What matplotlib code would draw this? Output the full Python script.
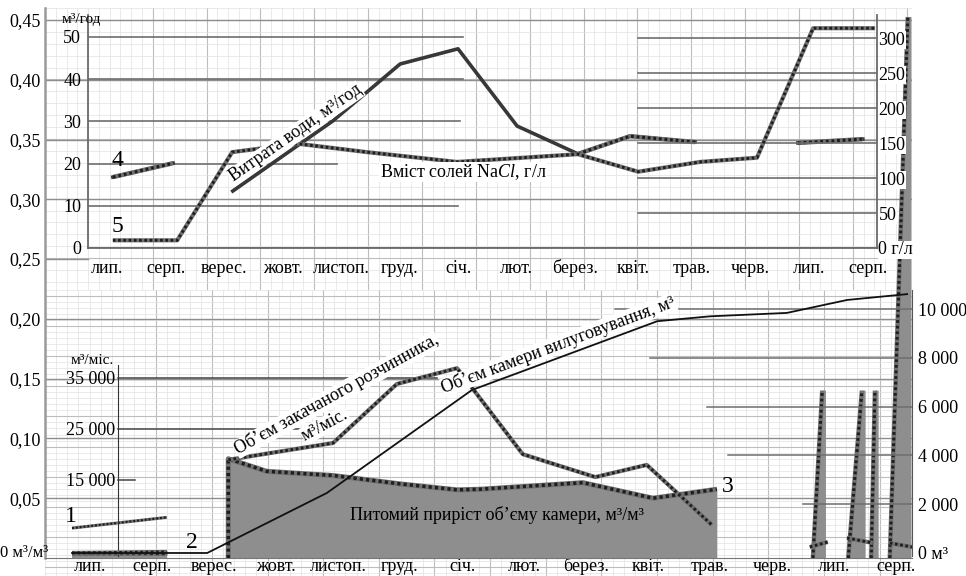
import numpy as np
import matplotlib.pyplot as plt
from matplotlib.ticker import FuncFormatter

plt.rcParams['font.family'] = ['Liberation Serif', 'DejaVu Serif']
plt.rcParams['font.size'] = 13
plt.rcParams['mathtext.fontset'] = 'custom'
plt.rcParams['mathtext.rm'] = 'Liberation Serif'
plt.rcParams['mathtext.it'] = 'Liberation Serif:italic'

nan = np.nan

# ---- data ----
months = ['лип.', 'серп.', 'верес.', 'жовт.', 'листоп.', 'груд.', 'січ.',
          'лют.', 'берез.', 'квіт.', 'трав.', 'черв.', 'лип.', 'серп.']

# top panel: water flow, m3/h (4 and the solid line)
water_x = [0.10, 1.13, nan, 2.15, 3.86, 5.01, 6.00, 7.01, 8.05, 8.94, 10.05, nan, 11.81, 12.92]
water_y = [16.8, 20.1, nan, 13.5, 30.1, 43.6, 47.2, 28.9, 22.3, 26.5, 25.1, nan, 24.9, 25.8]

# top panel: NaCl content, g/l (5)
salt_x = [0.10, 1.20, 2.14, 3.26, 4.44, 5.98, 8.05, 9.08, 10.14, 11.11, 12.07, 13.13]
salt_y = [11, 11, 137, 149, 137, 123, 134, 109, 123, 129, 314, 314]

# bottom panel: specific growth of the chamber volume, m3/m3 (3)
growth0_x = [-0.29, 1.24]
growth0_y = [0.004, 0.004]
growth_x = [2.23, 2.23, 2.85, 3.92, 5.00, 5.92, 6.29, 7.95, 9.08, 10.11]
growth_y = [0.0, 0.083, 0.0725, 0.069, 0.062, 0.057, 0.0575, 0.063, 0.050, 0.0575]
spike_start = [11.66, 12.23, 12.60, 12.90]
spike_end = [11.81, 12.45, 12.66, 13.19]
spike_top = [0.14, 0.14, 0.14, 0.4525]

# bottom panel: line 1
line1_x = [-0.29, 1.24]
line1_y = [0.025, 0.034]

# bottom panel: injected solvent, m3/month
inject_x = [-0.29, 1.24, nan, 2.23, 3.92, 4.95, 5.92, 6.98, 8.15, 8.98, 10.03,
            nan, 11.61, 11.90, nan, 12.21, 12.63, nan, 12.90, 13.26]
inject_y = [600, 800, nan, 18900, 22200, 33800, 36900, 20000, 15500, 17900, 6100,
            nan, 1770, 2750, nan, 3540, 2550, nan, 2550, 1770]

# bottom panel: leaching chamber volume, m3 (2)
cavity_x = [-0.29, 1.89, 3.82, 6.16, 9.15, 10.00, 11.24, 12.21, 13.18]
cavity_y = [0, 0, 2460, 6680, 9500, 9700, 9840, 10370, 10610]

far_ticks = [0.05, 0.10, 0.15, 0.20, 0.25, 0.30, 0.35, 0.40, 0.45]
tl_ticks = [0, 10, 20, 30, 40, 50]
tr_ticks = [0, 50, 100, 150, 200, 250, 300]
bl_ticks = [15000, 25000, 35000]
br_ticks = [0, 2000, 4000, 6000, 8000, 10000]

# ---- layout helpers (pixel boxes) ----
W, H = 966, 576
fig = plt.figure(figsize=(W / 100, H / 100), dpi=100)


def box(x0, y0, x1, y1):
    return [x0 / W, 1 - y1 / H, (x1 - x0) / W, (y1 - y0) / H]


def ftext(px, py, s, **kw):
    fig.text(px / W, 1 - py / H, s, **kw)


def clean(ax):
    for s in ax.spines.values():
        s.set_visible(False)


def dotted(ax, x, y, lw=3.0, z=3):
    ax.plot(x, y, color='#707070', lw=lw, solid_capstyle='butt', zorder=z)
    ax.plot(x, y, color='#1e1e1e', lw=lw * 0.7, ls=(0, (0.9, 0.9)), zorder=z + 0.1)


def paper(y0, y1, x0, step):
    ax = fig.add_axes(box(45, y0, 912, y1), zorder=0)
    ax.set_xlim(45, 912)
    ax.set_ylim(y1, y0)
    ax.set_xticks(np.arange(x0, 912, step))
    ax.set_xticks(np.arange(x0 - 2 * step, 912, step / 5), minor=True)
    ax.set_yticks(np.arange(18, y1, 60))
    ax.set_yticks(np.arange(6, y1, 12), minor=True)
    ax.grid(which='major', color='#bdbdbd', lw=0.8)
    ax.grid(which='minor', color='#e2e2e2', lw=0.5)
    ax.tick_params(which='both', length=0, labelbottom=False, labelleft=False)
    clean(ax)


paper(8, 290, 90, 58.3)
paper(290, 576, 45.4, 63.8)

# ---- far-left ratio axis (whole height) ----
ax_far = fig.add_axes(box(45, 8, 912, 558), zorder=1)
ax_far.patch.set_visible(False)
ax_far.set_xlim(-0.726, 13.258)
ax_far.set_ylim(0, 0.46)
clean(ax_far)
ax_far.spines['left'].set_visible(True)
ax_far.spines['left'].set_color('#9a9a9a')
ax_far.spines['left'].set_linewidth(1.8)
ax_far.spines['bottom'].set_visible(True)
ax_far.spines['bottom'].set_color('#777777')
ax_far.set_yticks(far_ticks)
ax_far.yaxis.set_major_formatter(FuncFormatter(lambda v, p: f'{v:.2f}'.replace('.', ',')))
ax_far.set_xticks(range(len(months)))
ax_far.set_xticklabels(months)
for lbl in ax_far.get_xticklabels():
    lbl.set_va('baseline')
ax_far.tick_params(axis='y', length=0, pad=3)
ax_far.tick_params(axis='x', length=0, pad=9.4)
for v in far_ticks:
    # the 0,25 line only runs up to the top panel's left spine
    ax_far.axhline(v, xmax=(43 / 867 if v == 0.25 else 1), color='#8e8e8e', lw=1.0, zorder=0.5)

ax_far.fill_between(growth0_x, growth0_y, 0, color='#8e8e8e', lw=0, zorder=2)
ax_far.fill_between(growth_x, growth_y, 0, color='#8e8e8e', lw=0, zorder=2)
dotted(ax_far, growth0_x, growth0_y, lw=3.4)
dotted(ax_far, growth_x, growth_y, lw=3.6)
for s, e, t in zip(spike_start, spike_end, spike_top):
    ax_far.fill([s, e, e + 0.06, e + 0.06], [0, t, t, 0], color='#8e8e8e', lw=0, zorder=2)
    dotted(ax_far, [s, e], [0, t], lw=3.2)
dotted(ax_far, line1_x, line1_y, lw=2.2)

# ---- top panel ----
ax_tl = fig.add_axes(box(88, 15, 877, 248), zorder=2)
ax_tl.patch.set_visible(False)
ax_tl.set_xlim(-0.325, 13.162)
ax_tl.set_ylim(0, 55.21)
clean(ax_tl)
for side in ['left', 'bottom']:
    ax_tl.spines[side].set_visible(True)
    ax_tl.spines[side].set_color('#6a6a6a')
    ax_tl.spines[side].set_linewidth(1.3)
ax_tl.set_yticks(tl_ticks)
ax_tl.set_xticks(range(len(months)))
ax_tl.set_xticklabels(months)
for lbl in ax_tl.get_xticklabels():
    lbl.set_va('baseline')
ax_tl.tick_params(axis='y', length=0, pad=5)
ax_tl.tick_params(axis='x', length=0, pad=18)
tl_grid_end = [877, 458, 337, 460, 463, 463]
for v, e in zip(tl_ticks, tl_grid_end):
    ax_tl.axhline(v, xmax=(e - 88) / 789, color='#6e6e6e', lw=1.2, zorder=0.5)

ax_tl.plot(water_x, water_y, color='#383838', lw=2.6, zorder=3)
for a, b in [(0, 2), (8, 11), (12, 14)]:
    dotted(ax_tl, water_x[a:b], water_y[a:b], lw=3.2)

ax_tr = ax_tl.twinx()
ax_tr.set_ylim(0, 332.9)
clean(ax_tr)
ax_tr.spines['right'].set_visible(True)
ax_tr.spines['right'].set_color('#6a6a6a')
ax_tr.spines['right'].set_linewidth(1.3)
ax_tr.set_yticks(tr_ticks)
ax_tr.yaxis.set_major_formatter(FuncFormatter(lambda v, p: '0 г/л' if v == 0 else f'{v:.0f}'))
ax_tr.tick_params(axis='y', length=0, pad=1)
for lbl in ax_tr.get_yticklabels():
    lbl.set_bbox(dict(fc='white', ec='none', pad=0.5))
for v in tr_ticks[1:]:
    ax_tr.axhline(v, xmin=(638 - 88) / 789, color='#6e6e6e', lw=1.2, zorder=0.5)
dotted(ax_tr, salt_x, salt_y, lw=3.0)

# ---- bottom panel ----
ax_bl = fig.add_axes(box(45, 290, 912, 556), zorder=3)
ax_bl.patch.set_visible(False)
ax_bl.set_xlim(-0.726, 13.258)
ax_bl.set_ylim(0, 52260)
clean(ax_bl)
ax_bl.spines['left'].set_visible(True)
ax_bl.spines['left'].set_position(('data', 0.4516))
ax_bl.spines['left'].set_bounds(0, 37500)
ax_bl.spines['left'].set_color('#333333')
ax_bl.set_yticks(bl_ticks)
ax_bl.yaxis.set_major_formatter(FuncFormatter(lambda v, p: f'{int(v):,}'.replace(',', ' ')))
ax_bl.tick_params(axis='y', length=0, pad=2)
ax_bl.tick_params(axis='x', bottom=False, labelbottom=False)
bl_grid_end = [135, 333, 437]
for v, e in zip(bl_ticks, bl_grid_end):
    ax_bl.axhline(v, xmin=(118 - 45) / 867, xmax=(e - 45) / 867, color='#444444', lw=1.1, zorder=0.5)
dotted(ax_bl, inject_x, inject_y, lw=3.0, z=4)

ax_br = ax_bl.twinx()
ax_br.set_ylim(-123, 10779)
clean(ax_br)
ax_br.spines['right'].set_visible(True)
ax_br.spines['right'].set_color('#555555')
ax_br.set_yticks(br_ticks)
ax_br.yaxis.set_major_formatter(
    FuncFormatter(lambda v, p: '0 м³' if v == 0 else f'{int(v):,}'.replace(',', ' ')))
ax_br.tick_params(axis='y', length=0, pad=4)
br_grid_start = [912, 803, 728, 707, 650, 615]
for v, s in zip(br_ticks[1:], br_grid_start[1:]):
    ax_br.axhline(v, xmin=(s - 45) / 867, color='#6e6e6e', lw=1.1, zorder=0.5)
ax_br.plot(cavity_x, cavity_y, color='#111111', lw=1.3, zorder=5)

# ---- annotations ----
white = dict(fc='white', ec='none', pad=0.3)
ftext(62, 20, 'м³/год', ha='left', va='center', fontsize=11)
ftext(117, 160, '4', ha='center', va='center', fontsize=17)
ftext(117, 227, '5', ha='center', va='center', fontsize=17)
# label boxes hide gridlines beneath them, as on the original scan
ftext(234, 182, 'Витрата води, м³/год', ha='left', va='baseline', rotation=35,
      rotation_mode='anchor', bbox=white, zorder=2.5)
ftext(463, 172, 'Вміст солей Na$\\mathit{Cl}$, г/л', ha='center', va='center', bbox=white,
      zorder=2.5)
ftext(92, 360, 'м³/міс.', ha='center', va='center', fontsize=11)
ftext(71, 517, '1', ha='center', va='center', fontsize=17)
ftext(192, 543, '2', ha='center', va='center', fontsize=17)
ftext(728, 487, '3', ha='center', va='center', fontsize=17)
ftext(238, 455, 'Об’єм закачаного розчинника,', ha='left', va='baseline', rotation=29,
      rotation_mode='anchor', bbox=white, zorder=3.5)
ftext(305, 441, 'м³/міс.', ha='left', va='baseline', rotation=28,
      rotation_mode='anchor', bbox=white, zorder=3.5)
ftext(444, 393, 'Об’єм камери вилуговування, м³', ha='left', va='baseline', rotation=20.5,
      rotation_mode='anchor', bbox=white, zorder=3.5)
ftext(497, 515, 'Питомий приріст об’єму камери, м³/м³', ha='center', va='center', zorder=4)
ftext(0, 553, '0 м³/м³', ha='left', va='center', fontsize=12)

fig.savefig('out.png', dpi=100, facecolor='white')
